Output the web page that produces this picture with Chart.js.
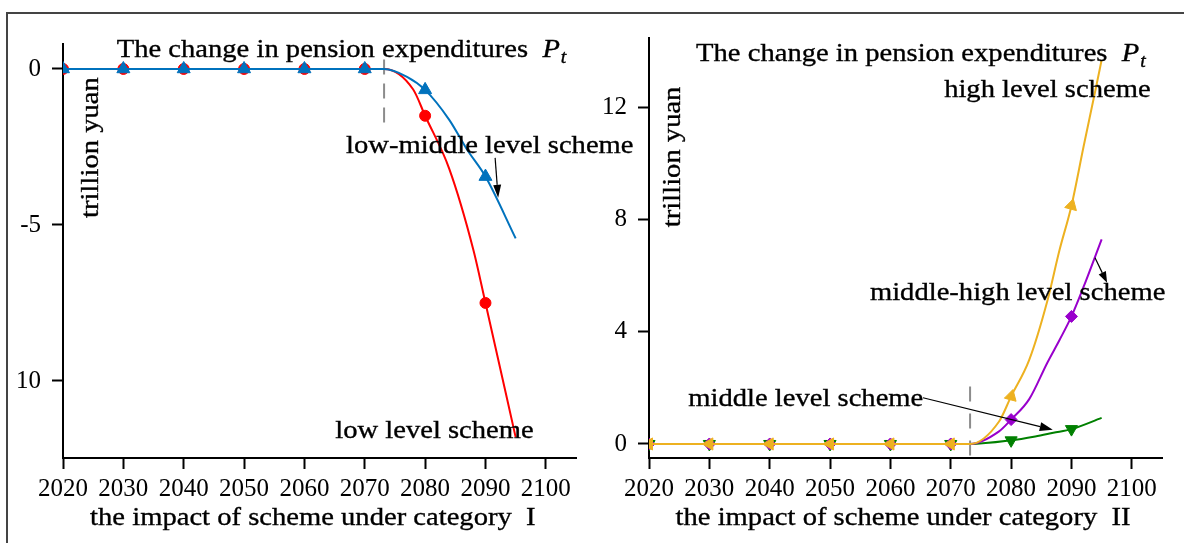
<!DOCTYPE html>
<html>
<head>
<meta charset="utf-8">
<script src="https://cdn.jsdelivr.net/npm/chart.js@4.4.1/dist/chart.umd.min.js"></script>
<style>
  html, body { margin: 0; padding: 0; background: #fff; overflow: hidden; }
  body { width: 1184px; height: 543px; position: relative; }
  #frame { position: absolute; left: 6px; top: 12px; width: 1200px; height: 560px;
           border-top: 2px solid #444; border-left: 2px solid #444; }
  #wrapL { position: absolute; left: 0; top: 0; width: 660px; height: 543px; }
  #wrapR { position: absolute; left: 560px; top: 0; width: 624px; height: 543px; }
</style>
</head>
<body>
<div id="frame"></div>
<div id="wrapL"><canvas id="chartL"></canvas></div>
<div id="wrapR"><canvas id="chartR"></canvas></div>
<script>
// ---- data -------------------------------------------------------------
const markerYears = [2020, 2030, 2040, 2050, 2060, 2070, 2080, 2090];
const xTickYears = [2020, 2030, 2040, 2050, 2060, 2070, 2080, 2090, 2100];
const reformYear = 2073.2;

// category I
const lowYears   = [2020, 2030, 2040, 2050, 2060, 2070, 2073.2, 2078, 2080, 2084, 2088, 2090, 2095];
const lowValues  = [0, 0, 0, 0, 0, 0, 0, -0.65, -1.5, -3.2, -5.8, -7.5, -11.8];
const lowMidYears  = [2020, 2030, 2040, 2050, 2060, 2070, 2073.2, 2077, 2080, 2084, 2087, 2090, 2095];
const lowMidValues = [0, 0, 0, 0, 0, 0, 0, -0.25, -0.67, -1.63, -2.6, -3.45, -5.43];
const leftTickValues = [-10, -5, 0];
const leftTickLabels = ['10', '-5', '0'];
const leftGuideSpan = [0.3, -1.95];

// category II
const highYears  = [2020, 2030, 2040, 2050, 2060, 2070, 2073.2, 2078, 2080, 2083, 2086, 2088, 2090, 2092, 2094, 2095];
const highValues = [0, 0, 0, 0, 0, 0, 0, 0.8, 1.7, 3.0, 5.1, 6.9, 8.5, 10.6, 12.65, 13.7];
const midHighYears  = [2020, 2030, 2040, 2050, 2060, 2070, 2073.2, 2078, 2080, 2083, 2086, 2088, 2090, 2092, 2095];
const midHighValues = [0, 0, 0, 0, 0, 0, 0, 0.45, 0.87, 1.6, 2.9, 3.7, 4.55, 5.6, 7.3];
const midYears  = [2020, 2030, 2040, 2050, 2060, 2070, 2073.2, 2080, 2084, 2087, 2090, 2095];
const midValues = [0, 0, 0, 0, 0, 0, 0, 0.13, 0.27, 0.4, 0.53, 0.93];
const rightTickValues = [0, 4, 8, 12];
const rightTickLabels = ['0', '4', '8', '12'];
const rightGuideSpan = [2.05, -0.5];

// ---- helpers ----------------------------------------------------------
const pts = (xs, ys) => xs.map((x, i) => ({ x: x, y: ys[i] }));
const onMarker = ctx => ctx.raw && markerYears.includes(ctx.raw.x);
const SERIF = '"Liberation Serif", "Times New Roman", serif';

function series(label, xs, ys, color, style, radius, rotation) {
  return {
    label: label,
    data: pts(xs, ys),
    borderColor: color,
    backgroundColor: color,
    borderWidth: 2,
    cubicInterpolationMode: 'monotone',
    pointStyle: style,
    pointRadius: ctx => onMarker(ctx) ? radius : 0,
    pointRotation: rotation || 0,
    pointBackgroundColor: color,
    pointBorderColor: color,
    pointBorderWidth: 1
  };
}

function guide(span, dash) {
  return {
    label: 'guide',
    data: [{ x: reformYear, y: span[0] }, { x: reformYear, y: span[1] }],
    borderColor: '#8c8c8c',
    borderWidth: 2,
    borderDash: dash,
    pointRadius: 0
  };
}

function drawText(ctx, text, x, y, o) {
  o = o || {};
  const size = o.size || 26;
  const stretch = o.stretch || 1.1;
  ctx.save();
  ctx.translate(x, y);
  if (o.rotate) ctx.rotate(o.rotate);
  ctx.scale(stretch, 1);
  ctx.font = (o.italic ? 'italic ' : '') + size + 'px ' + SERIF;
  ctx.textAlign = o.align || 'left';
  ctx.textBaseline = o.baseline || 'alphabetic';
  ctx.fillStyle = '#000';
  ctx.strokeStyle = '#000';
  ctx.lineWidth = 0.35;
  ctx.fillText(text, 0, 0);
  ctx.strokeText(text, 0, 0);
  const w = ctx.measureText(text).width * stretch;
  ctx.restore();
  return w;
}

function drawArrow(ctx, x1, y1, x2, y2, head, half) {
  const a = Math.atan2(y2 - y1, x2 - x1);
  const bx = x2 - Math.cos(a) * head, by = y2 - Math.sin(a) * head;
  ctx.save();
  ctx.strokeStyle = '#000';
  ctx.fillStyle = '#000';
  ctx.lineWidth = 1.2;
  ctx.beginPath(); ctx.moveTo(x1, y1); ctx.lineTo(bx, by); ctx.stroke();
  ctx.beginPath();
  ctx.moveTo(x2, y2);
  ctx.lineTo(bx + Math.sin(a) * half, by - Math.cos(a) * half);
  ctx.lineTo(bx - Math.sin(a) * half, by + Math.cos(a) * half);
  ctx.closePath(); ctx.fill();
  ctx.restore();
}

// annotation layer: notes are placed in data coordinates
function notesPlugin(notes) {
  return {
    id: 'notes',
    afterDraw(chart) {
      const ctx = chart.ctx, xs = chart.scales.x, ys = chart.scales.y;
      const px = v => xs.getPixelForValue(v), py = v => ys.getPixelForValue(v);
      // heading with P_t
      const h = notes.heading;
      const hx = px(h.x), hy = py(h.y);
      const w = drawText(ctx, 'The change in pension expenditures  ', hx, hy);
      const pw = drawText(ctx, 'P', hx + w, hy, { italic: true });
      drawText(ctx, 't', hx + w + pw + 1, hy + 6, { italic: true, size: 18 });
      // unit label
      drawText(ctx, 'trillion yuan', px(notes.unit.x), py(notes.unit.y),
               { rotate: -Math.PI / 2, align: 'center', baseline: 'middle' });
      // scheme labels
      notes.labels.forEach(l => drawText(ctx, l.text, px(l.x), py(l.y)));
      // arrows
      notes.arrows.forEach(a => drawArrow(ctx, px(a.x1), py(a.y1), px(a.x2), py(a.y2), a.head, a.half));
      // axis title
      drawText(ctx, notes.axisTitle, px(notes.axisTitleX), chart.chartArea.bottom + 67, { align: 'center' });
    }
  };
}

function axes(yMin, yMax, tickValues, tickLabels, yWidth) {
  const tickFont = { family: SERIF, size: 25 };
  return {
    x: {
      type: 'linear', min: 2020, max: 2105,
      afterBuildTicks: ax => { ax.ticks = xTickYears.map(v => ({ value: v })); },
      afterFit: ax => { ax.height = 85; },
      ticks: { font: tickFont, color: '#000', padding: 5, maxRotation: 0, autoSkip: false,
               callback: v => String(v) },
      grid: { display: true, drawOnChartArea: false, drawTicks: true, tickLength: 11,
              tickWidth: 2, tickColor: '#000' },
      border: { display: true, color: '#000', width: 2 }
    },
    y: {
      type: 'linear', min: yMin, max: yMax,
      afterBuildTicks: ax => { ax.ticks = tickValues.map(v => ({ value: v })); },
      afterFit: ax => { ax.width = yWidth; },
      ticks: { font: tickFont, color: '#000', padding: 11,
               callback: v => tickLabels[tickValues.indexOf(v)] },
      grid: { display: true, drawOnChartArea: false, drawTicks: true, tickLength: 11,
              tickWidth: 2, tickColor: '#000' },
      border: { display: true, color: '#000', width: 2 }
    }
  };
}

const baseOptions = {
  responsive: true,
  maintainAspectRatio: false,
  animation: false,
  events: [],
  plugins: { legend: { display: false }, tooltip: { enabled: false } }
};

// ---- category I -------------------------------------------------------
new Chart(document.getElementById('chartL'), {
  type: 'line',
  data: {
    datasets: [
      series('low-middle level scheme', lowMidYears, lowMidValues, '#0072BD', 'triangle', 7.5, 0),
      series('low level scheme', lowYears, lowValues, '#FF0000', 'circle', 5.5, 0),
      guide(leftGuideSpan, [15, 9])
    ]
  },
  options: Object.assign({}, baseOptions, {
    layout: { padding: { top: 44, right: 84, left: 0, bottom: 0 } },
    scales: axes(-12.47, 0.8, leftTickValues, leftTickLabels, 63)
  }),
  plugins: [notesPlugin({
    heading: { x: 2028.9, y: 0.39 },
    unit: { x: 2024.7, y: -2.52 },
    labels: [
      { text: 'low-middle level scheme', x: 2066.9, y: -2.69 },
      { text: 'low level scheme', x: 2065.1, y: -11.84 }
    ],
    arrows: [ { x1: 2091.6, y1: -2.85, x2: 2092.1, y2: -4.13, head: 13, half: 4 } ],
    axisTitle: 'the impact of scheme under category  I',
    axisTitleX: 2061.4
  })]
});

// ---- category II ------------------------------------------------------
new Chart(document.getElementById('chartR'), {
  type: 'line',
  data: {
    datasets: [
      series('high level scheme', highYears, highValues, '#EDB120', 'triangle', 7,
             ctx => (ctx.raw && ctx.raw.y === 0) ? 270 : 15),
      series('middle-high level scheme', midHighYears, midHighValues, '#9900CC', 'rectRot', 6, 0),
      series('middle level scheme', midYears, midValues, '#008000', 'triangle', 7, 180),
      guide(rightGuideSpan, [15, 12])
    ]
  },
  options: Object.assign({}, baseOptions, {
    layout: { padding: { top: 38, right: 22, left: 0, bottom: 0 } },
    scales: axes(-0.5, 14.48, rightTickValues, rightTickLabels, 89)
  }),
  plugins: [notesPlugin({
    heading: { x: 2027.8, y: 13.66 },
    unit: { x: 2024.0, y: 10.24 },
    labels: [
      { text: 'high level scheme', x: 2068.9, y: 12.39 },
      { text: 'middle-high level scheme', x: 2056.6, y: 5.14 },
      { text: 'middle level scheme', x: 2026.5, y: 1.34 }
    ],
    arrows: [
      { x1: 2093.9, y1: 6.64, x2: 2095.9, y2: 5.75, head: 11, half: 4 },
      { x1: 2065.4, y1: 1.65, x2: 2086.9, y2: 0.51, head: 13, half: 4.5 }
    ],
    axisTitle: 'the impact of scheme under category  II',
    axisTitleX: 2062.1
  })]
});
</script>
</body>
</html>
